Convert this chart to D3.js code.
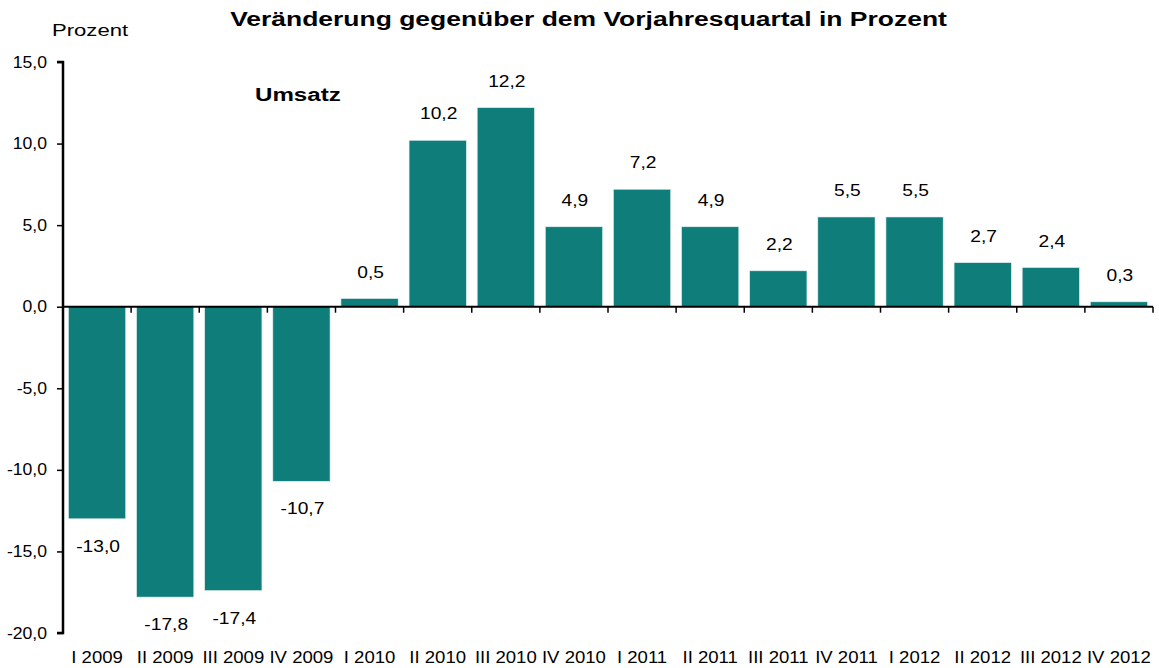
<!DOCTYPE html>
<html><head><meta charset="utf-8">
<script src="https://cdn.jsdelivr.net/npm/d3@7/dist/d3.min.js"></script>
<style>body{margin:0;background:#fff}text{font-family:"Liberation Sans",Arial,sans-serif}</style>
</head><body>
<svg id="c" width="1159" height="668"></svg>
<script>
const categories = ["I 2009","II 2009","III 2009","IV 2009","I 2010","II 2010","III 2010","IV 2010","I 2011","II 2011","III 2011","IV 2011","I 2012","II 2012","III 2012","IV 2012"];
const values = [-13.0,-17.8,-17.4,-10.7,0.5,10.2,12.2,4.9,7.2,4.9,2.2,5.5,5.5,2.7,2.4,0.3];
const yTicks = [-20,-15,-10,-5,0,5,10,15];

const svg = d3.select("#c");
const x = d3.scaleBand().domain(categories).range([63,1153]).paddingInner(0.16).paddingOuter(0.08);
const y = d3.scaleLinear().domain([-20,15]).range([633,62]);
const fmt = v => d3.format(".1f")(v).replace(".", ",").replace("−","-");

function stretched(px, py, sx, txt, anchor, size, weight) {
  return svg.append("text").attr("transform",`translate(${px},${py}) scale(${sx},1)`)
    .attr("text-anchor",anchor).attr("font-size",size).attr("font-weight",weight||"normal").text(txt);
}
stretched(588.5,26,1.26,"Veränderung gegenüber dem Vorjahresquartal in Prozent","middle",21,"bold");
stretched(52,36,1.3,"Prozent","start",17);
stretched(255,101,1.27,"Umsatz","start",19,"bold");

svg.selectAll("rect.bar").data(values).enter().append("rect")
  .attr("x",(d,i)=>x(categories[i])).attr("width",x.bandwidth())
  .attr("y",d=>y(Math.max(0,d))).attr("height",d=>Math.abs(y(d)-y(0)))
  .attr("fill","#0f7d7a").attr("stroke","#dfeeee").attr("stroke-width",0.6);

svg.selectAll("text.val").data(values).enter().append("text")
  .attr("transform",(d,i)=>`translate(${x(categories[i])+x.bandwidth()/2+1},${d>=0 ? y(d)-21 : y(d)+33}) scale(1.2,1)`)
  .attr("text-anchor","middle").attr("font-size",16)
  .text(d=>fmt(d));

// y axis
const ya = svg.append("g").attr("transform","translate(63,0)")
  .call(d3.axisLeft(y).tickValues(yTicks).tickSize(6).tickPadding(10).tickFormat(fmt));
ya.select(".domain").attr("stroke","#000").attr("stroke-width",2.5).attr("d","M-6,62H0V633H-6");
ya.selectAll(".tick line").attr("stroke-width",1.5);
ya.selectAll(".tick text").attr("font-size",16).attr("fill","#000").attr("x",0)
  .attr("transform","translate(-16,0) scale(1.1,1)")
  .attr("font-family","Liberation Sans, Arial, sans-serif");

// x axis line at zero with boundary ticks
const bounds = categories.map(c=>x(c)-x.step()*x.paddingInner()/2).concat([1153]);
svg.append("line").attr("x1",63).attr("x2",1153).attr("y1",y(0)).attr("y2",y(0)).attr("stroke","#000").attr("stroke-width",2);
svg.selectAll("line.xt").data(bounds.slice(1)).enter().append("line")
  .attr("x1",d=>d).attr("x2",d=>d).attr("y1",y(0)).attr("y2",y(0)+6).attr("stroke","#000").attr("stroke-width",1.5);

svg.selectAll("text.cat").data(categories).enter().append("text")
  .attr("transform",d=>`translate(${x(d)+x.bandwidth()/2},663) scale(1.16,1)`).attr("text-anchor","middle")
  .attr("font-size",16).text(d=>d);
</script>
</body></html>
